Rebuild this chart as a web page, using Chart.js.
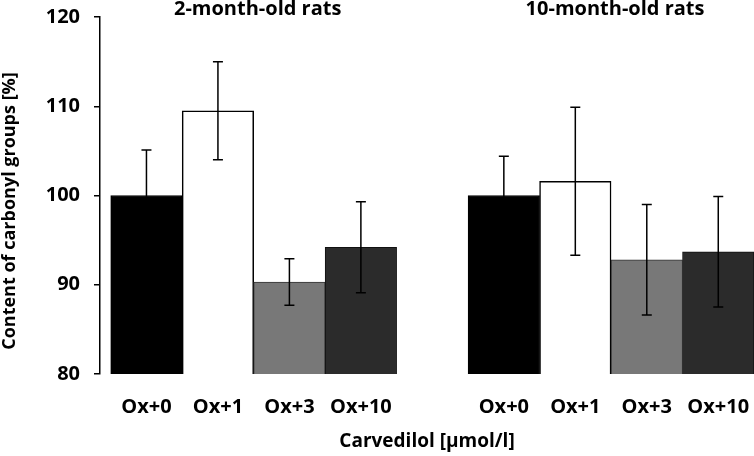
<!DOCTYPE html>
<html lang="en">
<head>
    <meta charset="UTF-8">
    <title>Content of carbonyl groups</title>
    <script src="https://cdn.jsdelivr.net/npm/chart.js"></script>
    <style>
        html, body { margin: 0; padding: 0; background: #fff; }
        #wrap { width: 754px; height: 456px; position: relative; }
    </style>
</head>
<body>
    <div id="wrap"><canvas id="chart"></canvas></div>

    <script>
        // data
        const doses = ["Ox+0", "Ox+1", "Ox+3", "Ox+10"];
        const groups = ["2-month-old rats", "10-month-old rats"];
        const mean2m = [100, 109.5, 90.3, 94.2];
        const sd2m = [5.1, 5.5, 2.6, 5.1];
        const mean10m = [100, 101.6, 92.8, 93.7];
        const sd10m = [4.4, 8.3, 6.2, 6.2];
        const yTicks = [80, 90, 100, 110, 120];

        const fillColors = ["#000000", "#ffffff", "#787878", "#2b2b2b"];
        const edgeColors = ["#000000", "#000000", "#333333", "#111111"];

        // second group sits one slot further right
        const gap = doses.length + 1;
        const xPos = [...doses.map((d, i) => i), ...doses.map((d, i) => i + gap)];
        const means = [...mean2m, ...mean10m];
        const sds = [...sd2m, ...sd10m];
        const points = means.map((v, i) => ({ x: xPos[i], y: v }));

        const font = "'Open Sans', sans-serif";

        const errorBars = {
            id: "errorBars",
            afterDatasetsDraw(chart) {
                const ctx = chart.ctx;
                const y = chart.scales.y;
                const meta = chart.getDatasetMeta(0);
                ctx.save();
                ctx.strokeStyle = "#000";
                ctx.lineWidth = 1.5;
                meta.data.forEach((bar, i) => {
                    const top = y.getPixelForValue(means[i] + sds[i]);
                    const bot = y.getPixelForValue(means[i] - sds[i]);
                    ctx.beginPath();
                    ctx.moveTo(bar.x, top);
                    ctx.lineTo(bar.x, bot);
                    ctx.moveTo(bar.x - 5, top);
                    ctx.lineTo(bar.x + 5, top);
                    ctx.moveTo(bar.x - 5, bot);
                    ctx.lineTo(bar.x + 5, bot);
                    ctx.stroke();
                });
                ctx.restore();
            }
        };

        const labels = {
            id: "labels",
            afterDraw(chart) {
                const ctx = chart.ctx;
                const x = chart.scales.x;
                ctx.save();
                ctx.fillStyle = "#000";
                ctx.textAlign = "center";
                ctx.textBaseline = "middle";
                ctx.font = "bold 20px " + font;
                groups.forEach((g, k) => {
                    const mid = x.getPixelForValue(k * gap + (doses.length - 1) / 2);
                    ctx.fillText(g, mid + 4, 9);
                });
                // y axis title
                ctx.font = "bold 18px " + font;
                ctx.translate(15, 211);
                ctx.rotate(-Math.PI / 2);
                ctx.textBaseline = "alphabetic";
                ctx.fillText("Content of carbonyl groups [%]", 0, 0);
                ctx.restore();
            }
        };

        new Chart(document.getElementById("chart"), {
            type: "bar",
            data: {
                datasets: [{
                    data: points,
                    backgroundColor: xPos.map((p, i) => fillColors[i % 4]),
                    borderColor: xPos.map((p, i) => edgeColors[i % 4]),
                    borderWidth: xPos.map((p, i) => (i % 4 === 1 ? 1.5 : 1)),
                    borderSkipped: false,
                    categoryPercentage: 1,
                    barPercentage: 1
                }]
            },
            options: {
                responsive: true,
                maintainAspectRatio: false,
                animation: false,
                layout: { padding: { top: 17, right: 0, bottom: 0, left: 0 } },
                plugins: {
                    legend: { display: false },
                    tooltip: { enabled: false }
                },
                scales: {
                    x: {
                        type: "linear",
                        offset: false,
                        min: -0.65,
                        max: doses.length + gap - 0.5,
                        grid: { display: false, drawTicks: false },
                        border: { display: false },
                        afterBuildTicks(scale) {
                            scale.ticks = xPos.map(v => ({ value: v }));
                        },
                        afterFit(scale) {
                            scale.height = 82;
                            scale.paddingLeft = 0;
                            scale.paddingRight = 0;
                        },
                        ticks: {
                            padding: 21,
                            color: "#000",
                            font: { family: font, size: 20, weight: "bold" },
                            callback: v => doses[v % gap]
                        },
                        title: {
                            display: true,
                            text: "Carvedilol [µmol/l]",
                            color: "#000",
                            font: { family: font, size: 19, weight: "bold" },
                            padding: { top: 0, bottom: 3 }
                        }
                    },
                    y: {
                        min: yTicks[0],
                        max: yTicks[yTicks.length - 1],
                        afterBuildTicks(scale) {
                            scale.ticks = yTicks.map(v => ({ value: v }));
                        },
                        afterFit(scale) {
                            scale.width = 100;
                            scale.paddingTop = 0;
                            scale.paddingBottom = 0;
                        },
                        grid: { drawOnChartArea: false, tickLength: 6, color: "#000", lineWidth: 1.5 },
                        border: { display: true, color: "#000", width: 1.5 },
                        ticks: {
                            padding: 14,
                            color: "#000",
                            font: { family: font, size: 20, weight: "bold" }
                        }
                    }
                }
            },
            plugins: [errorBars, labels]
        });
    </script>
</body>
</html>
